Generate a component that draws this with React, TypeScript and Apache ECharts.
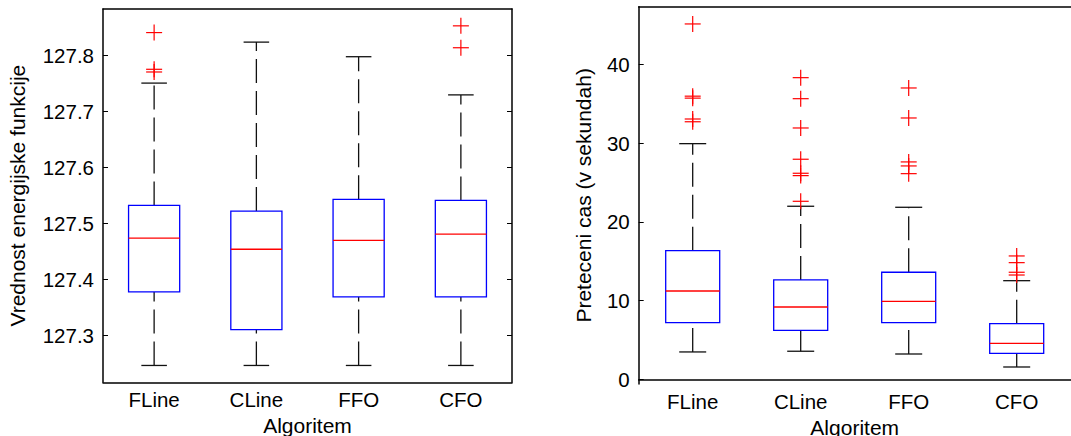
import React, { useEffect, useRef } from 'react';
import * as echarts from 'echarts';

const categories = ['FLine', 'CLine', 'FFO', 'CFO'];

// Left chart: Vrednost energijske funkcije
const energyLow = [127.247, 127.247, 127.247, 127.247];
const energyQ1 = [127.378, 127.311, 127.369, 127.369];
const energyMedian = [127.474, 127.454, 127.47, 127.481];
const energyQ3 = [127.532, 127.522, 127.543, 127.541];
const energyHigh = [127.75, 127.823, 127.797, 127.729];
const energyOutlierCat = [0, 0, 0, 3, 3];
const energyOutlierVal = [127.84, 127.7746, 127.7698, 127.852, 127.813];
const energyTicks = [127.3, 127.4, 127.5, 127.6, 127.7, 127.8];

// Right chart: Preteceni cas (v sekundah)
const timeLow = [3.47, 3.56, 3.21, 1.56];
const timeQ1 = [7.19, 6.22, 7.19, 3.3];
const timeMedian = [11.21, 9.18, 9.9, 4.57];
const timeQ3 = [16.33, 12.61, 13.59, 7.06];
const timeHigh = [29.92, 21.97, 21.84, 12.52];
const timeOutlierCat = [0, 0, 0, 0, 0, 1, 1, 1, 1, 1, 1, 1, 2, 2, 2, 2, 2, 3, 3, 3, 3];
const timeOutlierVal = [
  45.12, 35.95, 35.7, 33.05, 32.7,
  38.3, 35.63, 31.91, 27.94, 26.16, 25.86, 22.6,
  36.99, 33.18, 27.6, 27.09, 26.11,
  15.66, 14.81, 13.59, 13.24,
];
const timeTicks = [0, 10, 20, 30, 40];

const FONT = 'Liberation Sans, Arial, Helvetica, sans-serif';

const boxRender = (params: any, api: any) => {
  const x = api.value(0);
  const lo = api.coord([x, api.value(1)]);
  const q1 = api.coord([x, api.value(2)]);
  const md = api.coord([x, api.value(3)]);
  const q3 = api.coord([x, api.value(4)]);
  const hi = api.coord([x, api.value(5)]);
  const band = api.size([1, 0])[0];
  const bw = band * 0.5;
  const cw = band * 0.25;
  const cx = lo[0];
  const whisker = { stroke: '#111', lineWidth: 1.3, lineDash: [24, 8], fill: 'none' };
  const solid = { stroke: '#111', lineWidth: 1.3, fill: 'none' };
  return {
    type: 'group',
    children: [
      { type: 'line', shape: { x1: cx, y1: q3[1], x2: cx, y2: hi[1] }, style: whisker },
      { type: 'line', shape: { x1: cx, y1: lo[1], x2: cx, y2: q1[1] }, style: whisker },
      { type: 'line', shape: { x1: cx - cw / 2, y1: hi[1], x2: cx + cw / 2, y2: hi[1] }, style: solid },
      { type: 'line', shape: { x1: cx - cw / 2, y1: lo[1], x2: cx + cw / 2, y2: lo[1] }, style: solid },
      {
        type: 'rect',
        shape: { x: cx - bw / 2, y: q3[1], width: bw, height: q1[1] - q3[1] },
        style: { fill: 'none', stroke: '#0000ff', lineWidth: 1.3 },
      },
      {
        type: 'line',
        shape: { x1: cx - bw / 2, y1: md[1], x2: cx + bw / 2, y2: md[1] },
        style: { stroke: '#ff0000', lineWidth: 1.3 },
      },
    ],
  };
};

const plusRender = (params: any, api: any) => {
  const p = api.coord([api.value(0), api.value(1)]);
  const h = 8;
  const st = { stroke: '#ff0000', lineWidth: 1.2 };
  return {
    type: 'group',
    children: [
      { type: 'line', shape: { x1: p[0] - h, y1: p[1], x2: p[0] + h, y2: p[1] }, style: st },
      { type: 'line', shape: { x1: p[0], y1: p[1] - h, x2: p[0], y2: p[1] + h }, style: st },
    ],
  };
};

const axisLineStyle = { show: true, lineStyle: { color: '#000', width: 1.5 } };

export default function App() {
  const ref = useRef<HTMLDivElement>(null);
  useEffect(() => {
    if (!ref.current) return;
    const chart = echarts.init(ref.current, null, { renderer: 'svg' });

    const energyBoxes = categories.map((_, i) => [i, energyLow[i], energyQ1[i], energyMedian[i], energyQ3[i], energyHigh[i]]);
    const timeBoxes = categories.map((_, i) => [i, timeLow[i], timeQ1[i], timeMedian[i], timeQ3[i], timeHigh[i]]);
    const energyOut = energyOutlierVal.map((v, i) => [energyOutlierCat[i], v]);
    const timeOut = timeOutlierVal.map((v, i) => [timeOutlierCat[i], v]);

    const xBottom = (gridIndex: number) => ({
      type: 'category',
      gridIndex,
      data: categories,
      position: 'bottom',
      axisLine: axisLineStyle,
      axisTick: { show: false },
      axisLabel: { fontSize: 20.5, color: '#000', fontFamily: FONT, margin: 7 },
      splitLine: { show: false },
      name: 'Algoritem',
      nameLocation: 'middle',
      nameGap: 31,
      nameTextStyle: { fontSize: 21, color: '#000', fontFamily: FONT },
    });
    const xTop = (gridIndex: number) => ({
      type: 'category',
      gridIndex,
      data: categories,
      position: 'top',
      axisLine: axisLineStyle,
      axisTick: { show: false },
      axisLabel: { show: false },
      splitLine: { show: false },
    });

    const option: any = {
      animation: false,
      backgroundColor: '#fff',
      grid: [
        { left: 103, top: 9, width: 409, height: 373.3, containLabel: false, outerBoundsMode: 'none' },
        { left: 638.7, top: 6.7, width: 432, height: 377.3, containLabel: false, outerBoundsMode: 'none' },
      ],
      xAxis: [xBottom(0), xTop(0), xBottom(1), xTop(1)],
      yAxis: [
        {
          type: 'value',
          gridIndex: 0,
          position: 'left',
          min: 127.217,
          max: 127.882,
          axisLine: axisLineStyle,
          axisTick: { show: true, inside: true, length: 5, customValues: energyTicks, lineStyle: { color: '#000', width: 1 } },
          axisLabel: {
            customValues: energyTicks,
            formatter: (v: number) => v.toFixed(1),
            fontSize: 20.5,
            color: '#000',
            fontFamily: FONT,
            margin: 9,
          },
          splitLine: { show: false },
          name: 'Vrednost energijske funkcije',
          nameLocation: 'middle',
          nameGap: 75,
          nameTextStyle: { fontSize: 21, color: '#000', fontFamily: FONT },
        },
        {
          type: 'value',
          gridIndex: 0,
          position: 'right',
          min: 127.217,
          max: 127.882,
          axisLine: axisLineStyle,
          axisTick: { show: true, inside: true, length: 5, customValues: energyTicks, lineStyle: { color: '#000', width: 1 } },
          axisLabel: { show: false },
          splitLine: { show: false },
        },
        {
          type: 'value',
          gridIndex: 1,
          position: 'left',
          min: -0.6,
          max: 47.31,
          axisLine: axisLineStyle,
          axisTick: { show: true, inside: true, length: 5, customValues: timeTicks, lineStyle: { color: '#000', width: 1 } },
          axisLabel: {
            customValues: timeTicks,
            fontSize: 20.5,
            color: '#000',
            fontFamily: FONT,
            margin: 9,
          },
          splitLine: { show: false },
          name: 'Preteceni cas (v sekundah)',
          nameLocation: 'middle',
          nameGap: 45,
          nameTextStyle: { fontSize: 21, color: '#000', fontFamily: FONT },
        },
      ],
      series: [
        {
          type: 'custom',
          xAxisIndex: 0,
          yAxisIndex: 0,
          data: energyBoxes,
          encode: { x: 0, y: [1, 2, 3, 4, 5] },
          renderItem: boxRender,
          clip: false,
        },
        {
          type: 'custom',
          xAxisIndex: 0,
          yAxisIndex: 0,
          data: energyOut,
          encode: { x: 0, y: 1 },
          renderItem: plusRender,
          clip: false,
        },
        {
          type: 'custom',
          xAxisIndex: 2,
          yAxisIndex: 2,
          data: timeBoxes,
          encode: { x: 0, y: [1, 2, 3, 4, 5] },
          renderItem: boxRender,
          clip: false,
        },
        {
          type: 'custom',
          xAxisIndex: 2,
          yAxisIndex: 2,
          data: timeOut,
          encode: { x: 0, y: 1 },
          renderItem: plusRender,
          clip: false,
        },
      ],
    };
    chart.setOption(option);
    return () => chart.dispose();
  }, []);
  return (
    <div
      ref={ref}
      style={{ position: 'fixed', left: 0, top: 0, width: 1071, height: 436, background: '#fff' }}
    />
  );
}
